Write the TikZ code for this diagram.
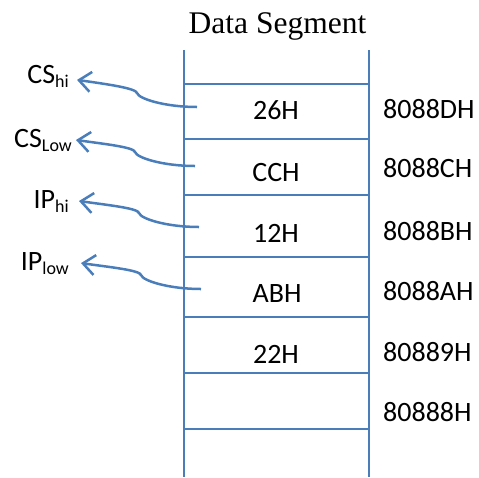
\documentclass[tikz,border=0pt]{standalone}
\usepackage{fontspec}
\setmainfont{Carlito}
\newfontfamily\titlefont{Liberation Serif}
\usetikzlibrary{arrows.meta}
\definecolor{segblue}{RGB}{74,126,187}
\newcommand{\lo}[1]{\raisebox{-4pt}{\fontsize{18}{18}\selectfont #1}}

\begin{document}
\begin{tikzpicture}[x=1pt,y=1pt,
  seg/.style={segblue, line width=1.8pt},
  ptr/.style={segblue, line width=2.5pt, -{Straight Barb[length=12pt,width=20pt]}},
  txt/.style={inner sep=0pt, font=\fontsize{28}{30}\selectfont}]
\useasboundingbox (0,0) rectangle (479,-477);
\node[anchor=base, inner sep=0pt, font=\titlefont\fontsize{31.5}{33}\selectfont] (title) at (277.5,-33) {Data Segment};
% frame of the segment
\draw[seg] (184,-50) -- (184,-477);
\draw[seg] (369,-50) -- (369,-477);
\draw[seg] (184,-84) -- (369,-84);
\draw[seg] (184,-139) -- (369,-139);
\draw[seg] (184,-195) -- (369,-195);
\draw[seg] (184,-257) -- (369,-257);
\draw[seg] (184,-317) -- (369,-317);
\draw[seg] (184,-373) -- (369,-373);
\draw[seg] (184,-429) -- (369,-429);
% contents
\node[txt, anchor=base] (b26) at (276,-119) {26H};
\node[txt, anchor=base] (bCC) at (276,-181) {CCH};
\node[txt, anchor=base] (b12) at (276,-242) {12H};
\node[txt, anchor=base] (bAB) at (277,-302) {ABH};
\node[txt, anchor=base] (b22) at (276,-363) {22H};
% addresses
\node[txt, anchor=base west] (aD) at (383,-118) {8088DH};
\node[txt, anchor=base west] (aC) at (383,-177) {8088CH};
\node[txt, anchor=base west] (aB) at (383,-240) {8088BH};
\node[txt, anchor=base west] (aA) at (383,-300) {8088AH};
\node[txt, anchor=base west] (a9) at (383,-361) {80889H};
\node[txt, anchor=base west] (a8) at (383,-421) {80888H};
% registers
\node[txt, anchor=base east] (cshi) at (69,-83) {CS\lo{hi}};
\node[txt, anchor=base east] (cslo) at (72,-147) {CS\lo{Low}};
\node[txt, anchor=base east] (iphi) at (69,-208) {IP\lo{hi}};
\node[txt, anchor=base east] (iplo) at (69,-270) {IP\lo{low}};
\coordinate (s26) at (197,-107);
\coordinate (sCC) at (195,-166);
\coordinate (s12) at (199,-227);
\coordinate (sAB) at (201,-289);
\draw[ptr] (s26) to[out=180,in=-75,out distance=32pt,in distance=6pt] ++(-60,14)
  to[out=105,in=-8,out distance=5pt,in distance=30pt] ([xshift=8pt,yshift=-4pt]cshi.east);
\draw[ptr] (sCC) to[out=180,in=-75,out distance=32pt,in distance=6pt] ++(-60,14)
  to[out=105,in=-8,out distance=5pt,in distance=30pt] ([xshift=4pt]cslo.east);
\draw[ptr] (s12) to[out=180,in=-75,out distance=32pt,in distance=6pt] ++(-60,14)
  to[out=105,in=-8,out distance=5pt,in distance=30pt] ([xshift=10pt]iphi.east);
\draw[ptr] (sAB) to[out=180,in=-75,out distance=32pt,in distance=6pt] ++(-60,14)
  to[out=105,in=-8,out distance=5pt,in distance=30pt] ([xshift=12pt]iplo.east);
\end{tikzpicture}
\end{document}
